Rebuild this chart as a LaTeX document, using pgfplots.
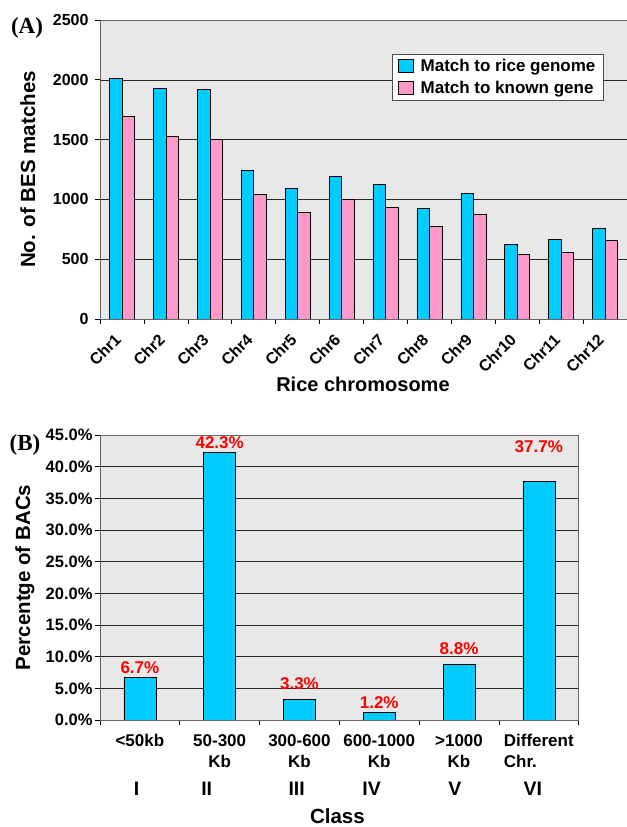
\documentclass[border=0pt]{standalone}
\usepackage{fontspec}
\setmainfont{Liberation Sans}
\newfontfamily\seriffont{Liberation Serif}
\usepackage{pgfplots}
\pgfplotsset{compat=1.18}
\definecolor{barblue}{HTML}{00CCFF}
\definecolor{barpink}{HTML}{FF99CC}
\definecolor{bggray}{HTML}{E8E8E8}
\newcommand{\fs}[1]{\fontsize{#1bp}{#1bp}\selectfont\bfseries}
\begin{document}
\begin{tikzpicture}
\useasboundingbox (0,0) rectangle (627bp,827bp);
\node[font=\seriffont\bfseries\fontsize{23bp}{23bp}\selectfont] at (27bp,799bp) {(A)};
\node[font=\seriffont\bfseries\fontsize{23bp}{23bp}\selectfont] at (25bp,382bp) {(B)};
\begin{axis}[
  at={(100bp,508bp)}, anchor=south west, scale only axis,
  width=527bp, height=299bp,
  ybar=0pt, bar width=12.5bp,
  xmin=-0.5, xmax=11.5, ymin=0, ymax=2500,
  xtick={0,...,11},
  xticklabels={Chr1,Chr2,Chr3,Chr4,Chr5,Chr6,Chr7,Chr8,Chr9,Chr10,Chr11,Chr12},
  minor xtick={-0.5,0.5,...,11.5},
  ytick={0,500,...,2500},
  minor ytick={0,500,...,2500},
  major tick length=0pt, minor tick length=5bp,
  tick align=outside, xtick pos=left, ytick pos=left,
  tick style={black, line width=0.6pt},
  ymajorgrids, grid style={black!85, line width=0.5pt},
  axis background/.style={fill=bggray},
  axis line style={black!60},
  /pgf/number format/assume math mode=true,
  ticklabel style={font=\fs{16}},
  xticklabel style={xshift=-1.6bp, yshift=-15.6bp, rotate=45, anchor=east, font=\fs{16}},
  yticklabel style={xshift=-8bp},
  scaled y ticks=false,
  yticklabel={\pgfmathprintnumber[1000 sep={}]{\tick}},
  every axis y label/.style={at={(axis description cs:-0.137,0.5)}, rotate=90, anchor=center, font=\fs{20.5}},
  every axis x label/.style={at={(axis description cs:0.499,-0.217)}, anchor=center, font=\fs{20}},
  ylabel={No. of BES matches},
  xlabel={Rice chromosome},
  legend style={at={(0.554,0.886)}, anchor=north west, draw=black!70, fill=white,
    font=\fs{17}, row sep=4bp, inner xsep=6bp, inner ysep=3bp,
    /tikz/every odd column/.append style={column sep=5bp}},
  legend image code/.code={\draw[#1,draw=black] (0bp,-6.5bp) rectangle (15bp,6.5bp);},
  legend cell align=left,
]
\addplot[fill=barblue, draw=black, line width=0.5pt] coordinates {
 (0,2012) (1,1926) (2,1917) (3,1243) (4,1093) (5,1193) (6,1126) (7,928) (8,1051) (9,627) (10,663) (11,758)};
\addplot[fill=barpink, draw=black, line width=0.5pt] coordinates {
 (0,1695) (1,1530) (2,1500) (3,1043) (4,892) (5,998) (6,936) (7,775) (8,875) (9,538) (10,558) (11,658)};
\legend{Match to rice genome, Match to known gene}
\end{axis}
\begin{axis}[
  at={(100bp,107bp)}, anchor=south west, scale only axis,
  width=478.7bp, height=285bp,
  ybar=0pt, bar width=32bp,
  xmin=-0.5, xmax=5.5, ymin=0, ymax=45,
  xtick={0,...,5},
  xticklabels={{<50kb},{50-300\\Kb},{300-600\\Kb},{600-1000\\Kb},{>1000\\Kb},{Different\\\makebox[4.11em][l]{Chr.}}},
  minor xtick={-0.5,0.5,...,5.5},
  ytick={0,5,...,45},
  minor ytick={0,5,...,45},
  major tick length=0pt, minor tick length=5bp,
  tick align=outside, xtick pos=left, ytick pos=left,
  tick style={black, line width=0.6pt},
  ymajorgrids, grid style={black!85, line width=0.5pt},
  axis background/.style={fill=bggray},
  axis line style={black!60},
  /pgf/number format/assume math mode=true,
  ticklabel style={font=\fs{16.5}},
  yticklabel style={xshift=-4bp},
  yticklabel={\pgfmathprintnumber[fixed,fixed zerofill,precision=1]{\tick}\%},
  xticklabel style={align=center, anchor=north, yshift=-11bp, font=\fontsize{17bp}{21bp}\selectfont\bfseries},
  extra x ticks={-0.04,0.837,1.965,2.905,3.949,4.926},
  extra x tick labels={I,II,III,IV,V,VI},
  extra x tick style={grid=none, xticklabel style={yshift=-48bp, font=\fs{19.5}}},
  every axis y label/.style={at={(axis description cs:-0.157,0.5)}, rotate=90, anchor=center, font=\fs{20.5}},
  every axis x label/.style={at={(axis description cs:0.496,-0.337)}, anchor=center, font=\fs{20.5}},
  ylabel={Percentge of BACs},
  xlabel={Class},
]
\addplot[fill=barblue, draw=black, line width=0.5pt,
  nodes near coords={\pgfmathprintnumber[fixed,fixed zerofill,precision=1]{\pgfplotspointmeta}\%},
  point meta=y,
  visualization depends on={\thisrow{dy} \as \dy},
  every node near coord/.append style={red, font=\fs{17}, yshift=\dy bp}]
 table[x=x, y=y] {
x y dy
0 6.7 0
1 42.3 0
2 3.3 6
3 1.2 0
4 8.8 6
5 37.7 25
};
\end{axis}
\end{tikzpicture}
\end{document}
